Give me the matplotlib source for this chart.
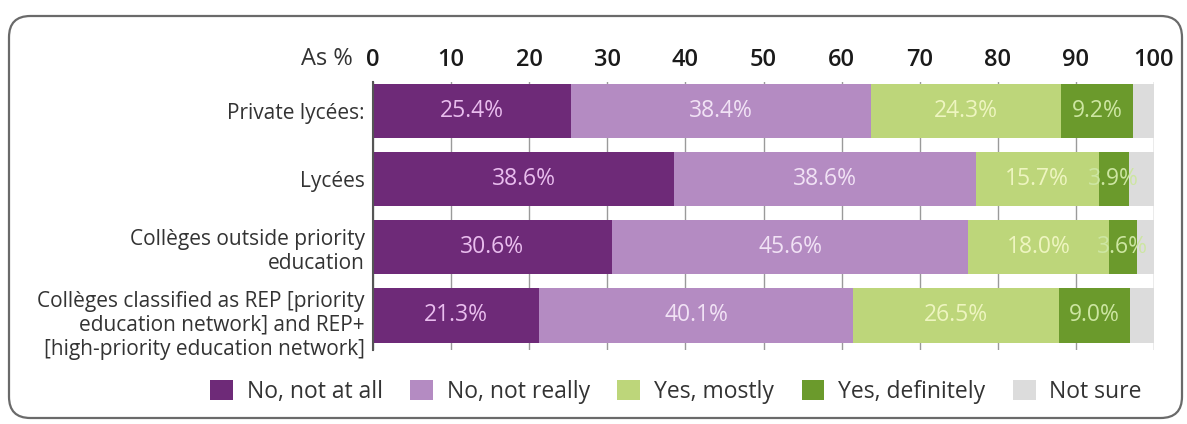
import matplotlib
matplotlib.use("Agg")
import matplotlib.pyplot as plt
from matplotlib.patches import FancyBboxPatch, Patch
import matplotlib.transforms as mtransforms
import numpy as np

plt.rcParams['font.family'] = ['Open Sans', 'DejaVu Sans']

categories = [
    "Private lycées:",
    "Lycées",
    "Collèges outside priority\neducation",
    "Collèges classified as REP [priority\neducation network] and REP+\n[high-priority education network]",
]
series_names = ["No, not at all", "No, not really", "Yes, mostly", "Yes, definitely", "Not sure"]
no_not_at_all = [25.4, 38.6, 30.6, 21.3]
no_not_really = [38.4, 38.6, 45.6, 40.1]
yes_mostly = [24.3, 15.7, 18.0, 26.5]
yes_definitely = [9.2, 3.9, 3.6, 9.0]
not_sure = [2.7, 3.2, 2.2, 3.1]
xticks = [0, 10, 20, 30, 40, 50, 60, 70, 80, 90, 100]

colors = ["#6e2a78", "#b48bc2", "#bdd67a", "#6b9a2c", "#dcdcdc"]
text_colors = ["#e9bdee", "#f1e2f5", "#eef5c0", "#cde6a2", None]

fig = plt.figure(figsize=(11.87, 4.24), dpi=100)

# rounded frame
frame = FancyBboxPatch((9/1187, 1 - 418/424), (1182 - 9)/1187, (418 - 16)/424,
                       boxstyle="round,pad=0,rounding_size=0.018",
                       transform=fig.transFigure, facecolor="none",
                       edgecolor="#6a6a6a", linewidth=1.6, mutation_aspect=1187/424,
                       zorder=-1)
fig.patches.append(frame)

ax = fig.add_axes([373/1187, 1 - 350/424, (1154 - 373)/1187, (350 - 82)/424])
ax.set_facecolor("none")

y = np.arange(len(categories))
data = [no_not_at_all, no_not_really, yes_mostly, yes_definitely, not_sure]
left = np.zeros(len(categories))
for i, vals in enumerate(data):
    vals = np.array(vals)
    ax.barh(y, vals, left=left, height=0.8, color=colors[i], zorder=3, linewidth=0)
    if text_colors[i] is not None:
        for j, v in enumerate(vals):
            ax.text(left[j] + v / 2, y[j], f"{v:.1f}%", ha="center", va="center",
                    color=text_colors[i], fontsize=16.5, zorder=4)
    left += vals

ax.set_xlim(0, 100)
ax.set_ylim(3.51, -0.43)
ax.set_xticks(xticks)
ax.xaxis.tick_top()
ax.tick_params(axis="x", length=0, labelsize=17, pad=7, labelcolor="#1a1a1a")
for lab in ax.get_xticklabels():
    lab.set_fontweight("semibold")
ax.set_yticks(y)
ax.set_yticklabels(categories, fontsize=15, color="#333333", linespacing=1.2)
ax.tick_params(axis="y", length=0, pad=6)
last = ax.get_yticklabels()[-1]
last.set_transform(last.get_transform() + mtransforms.ScaledTranslation(0, -6/100, fig.dpi_scale_trans))
ax.grid(axis="x", color="#9a9a9a", linewidth=1.0, zorder=0)
for s in ["top", "right", "bottom"]:
    ax.spines[s].set_visible(False)
ax.spines["left"].set_color("#555555")
ax.spines["left"].set_linewidth(1.5)
ax.spines["left"].set_zorder(5)

fig.text(353/1187, 1 - 59/424, "As %", ha="right", va="center", fontsize=17, color="#333333")

handles = [Patch(facecolor=c, edgecolor="none") for c in colors]
fig.legend(handles, series_names, loc="center", bbox_to_anchor=(676/1187, 1 - 392/424),
           ncol=5, frameon=False, fontsize=16.5, handlelength=1.0, handleheight=1.0,
           handletextpad=0.6, columnspacing=1.2, labelcolor="#333333")

fig.savefig("out.png", dpi=100)
